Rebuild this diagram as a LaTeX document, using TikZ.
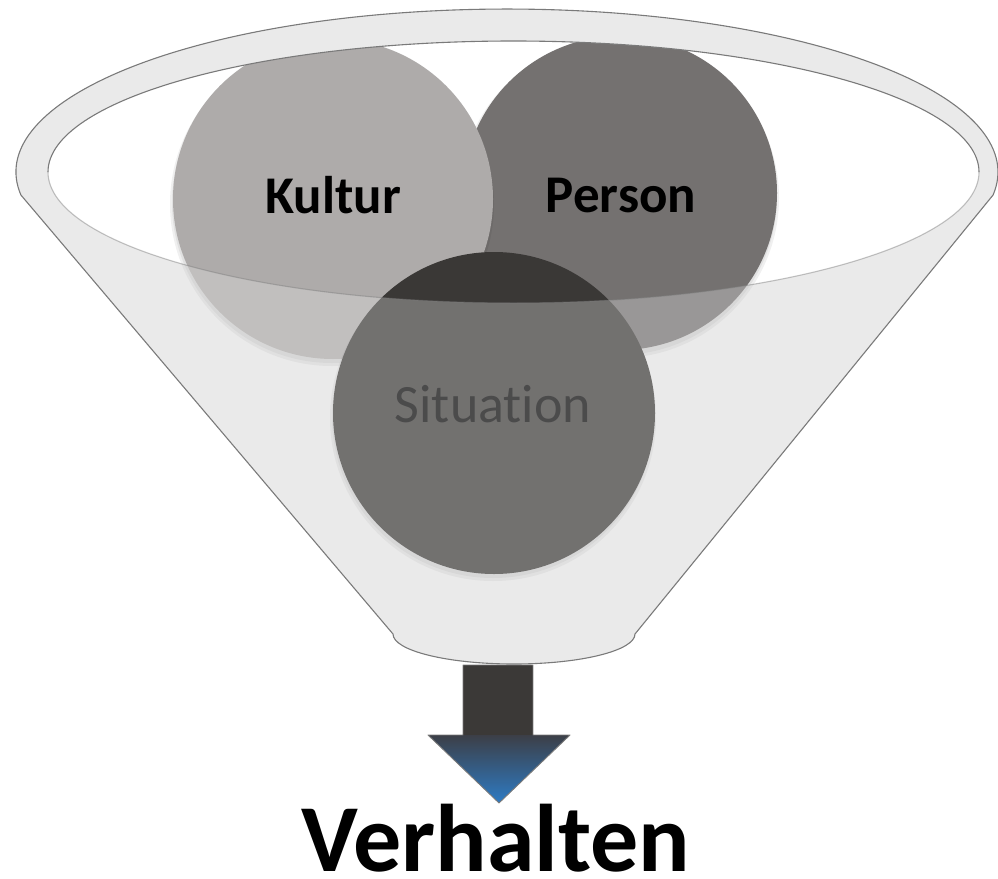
\documentclass[tikz,border=0pt]{standalone}
\usepackage{fontspec}
\setmainfont[Ligatures=NoCommon]{Carlito}
\definecolor{funnelg}{HTML}{EAEAEA}
\definecolor{lineg}{HTML}{7A7A7A}
\definecolor{kulturc}{HTML}{AEABAA}
\definecolor{personc}{HTML}{747170}
\definecolor{sitc}{HTML}{3A3836}
\definecolor{shaftc}{HTML}{3B3937}
\definecolor{headtop}{HTML}{3C3F47}
\definecolor{headbot}{HTML}{2E7BC4}
\begin{document}
\begin{tikzpicture}[x=1pt,y=-1pt,
  outline/.style={draw=lineg, line width=1.1pt},
  ball/.style={circle, inner sep=0pt, minimum size=#1},
  shadowball/.style={circle, inner sep=0pt, minimum size=#1, fill=black, fill opacity=0.06},
  lbl/.style={anchor=base, inner sep=0pt, text=black, text depth=0pt},
  outerp/.style={insert path={(20.9,195) arc[start angle=171.9,end angle=368.1,x radius=491,y radius=163] -- (635,634) arc[start angle=0,end angle=180,x radius=121,y radius=30] -- cycle}},
  innerp/.style={insert path={(513.5,172) ellipse[x radius=465.5,y radius=131]}}
]
\useasboundingbox (0,0) rectangle (998,878);
% funnel body (back)
\path[fill=funnelg, outerp];
\path[fill=white, innerp];
% circles
\node[shadowball=320] (pshadow) at (619,198) {};
\node[shadowball=316] (pshadow2) at (619,197) {};
\node[ball=314, fill=personc] (person) at (620,193) {};
\node[shadowball=324] (kshadow) at (332,204) {};
\node[shadowball=320] (kshadow2) at (332,203) {};
\node[ball=320, fill=kulturc] (kultur) at (333,199) {};
\node[shadowball=326] (sshadow) at (493,418) {};
\node[shadowball=322] (sshadow2) at (493,417) {};
\node[ball=322, fill=sitc] (situation) at (494,413) {};
% labels
\node[lbl, font=\bfseries\fontsize{53}{60}\selectfont] (tk) at (333,213) {Kultur};
\node[lbl, font=\bfseries\fontsize{53}{60}\selectfont] (tp) at (621,212) {Person};
\node[lbl, font=\fontsize{54}{60}\selectfont] (ts) at (493,422) {Situation};
% back rim: opaque
\begin{scope}
\clip (0,0) rectangle (998,172);
\path[fill=funnelg, even odd rule, outerp, innerp];
\end{scope}
% front of the funnel: semi-transparent
\begin{scope}
\clip (0,172) rectangle (998,878);
\path[fill=funnelg, fill opacity=0.32, even odd rule, outerp, innerp];
\end{scope}
% outlines
\path[outline, line join=round, outerp];
\draw[lineg, line width=1.1pt] (48,172) arc[start angle=180,end angle=360,x radius=465.5,y radius=131];
\draw[lineg, line width=1.1pt, draw opacity=0.45] (979,172) arc[start angle=0,end angle=180,x radius=465.5,y radius=131];
% arrow
\fill[shaftc] (463,665) rectangle (533,735.5);
\shade[top color=headtop, bottom color=headbot] (428,735) -- (570,735) -- (499,803) -- cycle;
\draw[lineg, line width=0.9pt, line join=round] (463,665) -- (533,665) -- (533,735) -- (570,735) -- (499,803) -- (428,735) -- (463,735) -- cycle;
% result
\node[lbl, font=\bfseries\fontsize{96}{104}\selectfont] (verhalten) at (496,871) {Verhalten};
\end{tikzpicture}
\end{document}
